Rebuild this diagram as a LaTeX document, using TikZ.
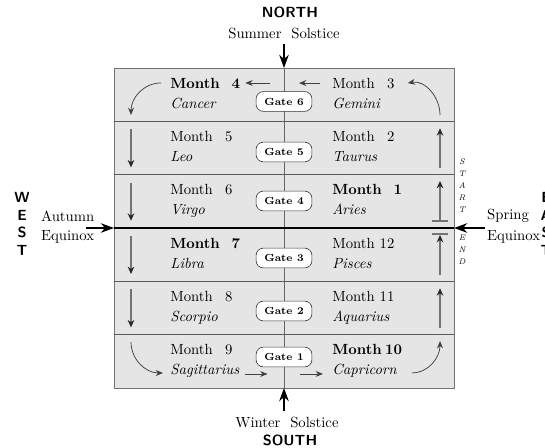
\documentclass[tikz,border=0pt]{standalone}
\usepackage{tikz}
\usetikzlibrary{positioning,calc,arrows.meta}

\newcommand{\mth}[1]{Month~\makebox[1em][r]{#1}}

\tikzset{
	month/.style={anchor=base west, inner sep=0pt},
	sign/.style={anchor=base west, inner sep=0pt, font=\itshape},
	gatebox/.style={draw=black!80, fill=white, rounded corners=5pt, font=\scriptsize\bfseries,
		minimum width=38pt, minimum height=13.5pt, inner sep=1pt},
	compass/.style={font=\sffamily\bfseries, align=center},
	rowline/.style={black!65, line width=0.6pt},
	cardinal/.style={line width=0.8pt, -{Stealth[length=9pt,width=6.5pt]}},
	flow/.style={black!75, line width=0.5pt, -{Stealth[length=5pt,width=4pt]}},
	colarrow/.style={black!55, line width=0.7pt, -{Stealth[length=5pt,width=4.5pt,black!85]}},
	barline/.style={black!55, line width=0.7pt},
	vletters/.style={font=\fontsize{5.5}{8.2}\selectfont\itshape, align=center, inner sep=0pt},
}

\begin{document}
\begin{tikzpicture}[x=0.68pt, y=-0.68pt]
	\useasboundingbox (0,0) rectangle (545,447);
	
	% the board
	\draw[black!55, fill=black!10, line width=0.6pt] (114,68) rectangle (454,388);
	\foreach \t in {121.33,174.67,281.33,334.67}
		\draw[rowline] (114,\t) -- (454,\t);
	\draw[black!60, line width=0.5pt] (284,68) -- (284,388);
	
	\coordinate (ntop) at (284,68);
	\coordinate (sbot) at (284,388);
	\coordinate (wedge) at (114,228);
	\coordinate (eedge) at (454,228);
	\coordinate (wtail) at (86,228);
	\coordinate (etail) at (485,228);
	\draw[line width=0.9pt] (wedge) -- (eedge);
	
	% months, signs and gates
	\foreach \i/\gy/\monL/\sigL/\monR/\sigR in {
		0/101.5/{\textbf{\mth{4}}}/Cancer/{\mth{3}}/Gemini,
		1/152/{\mth{5}}/Leo/{\mth{2}}/Taurus,
		2/201/{\mth{6}}/Virgo/{\textbf{\mth{1}}}/Aries,
		3/258/{\textbf{\mth{7}}}/Libra/{\mth{12}}/Pisces,
		4/311/{\mth{8}}/Scorpio/{\mth{11}}/Aquarius,
		5/357/{\mth{9}}/Sagittarius/{\textbf{\mth{10}}}/Capricorn}{
		\pgfmathsetmacro\t{68+53.333*\i}
		\pgfmathtruncatemacro\g{6-\i}
		\node[month] (ml\i) at (170,\t+20) {\monL};
		\node[sign] (sl\i) at (170,\t+40) {\sigL};
		\node[month] (mr\i) at (332,\t+20) {\monR};
		\node[sign] (sr\i) at (332,\t+40) {\sigR};
		\node[gatebox] (gate\g) at (284,\gy) {Gate \g};
	}
	
	% top and bottom rows
	\draw[flow] ($(ml0.east)+(30,0)$) -- ($(ml0.east)+(5,0)$);
	\draw[flow] ($(mr0.west)+(-12,0)$) -- ($(mr0.west)+(-33,0)$);
	\draw[flow] ($(ml0.west)+(-9,0)$) to[out=180, in=90] (131,115);
	\draw[flow] (440,115) to[out=90, in=10] ($(mr0.east)+(13,0)$);
	\draw[flow] (131,342) to[out=-90, in=180] ($(sl5.west)+(-7,2)$);
	\draw[flow] ($(sl5.east)+(5,3)$) -- ($(sl5.east)+(28,3)$);
	\draw[flow] ($(sr5.west)+(-32,3)$) -- ($(sr5.west)+(-9,3)$);
	\draw[flow] ($(sr5.east)+(15,2)$) to[out=0, in=-90] (440,341);
	
	% columns
	\foreach \t in {121.33,174.67,228,281.33}
		\draw[colarrow] (131,\t+8) -- (131,\t+46);
	\foreach \t in {121.33,281.33}
		\draw[colarrow] (440,\t+47) -- (440,\t+7);
	\draw[colarrow] (440,221) -- (440,181);
	\draw[barline] (432,221) -- (448,221);
	\draw[colarrow] (440,275) -- (440,235);
	\draw[barline] (432,234) -- (448,234);
	\node[vletters] (start) at (462,186) {S\\T\\A\\R\\T};
	\node[vletters] (finish) at (462,250) {E\\N\\D};
	
	% compass points
	\node[compass] (north) at (290,12) {NORTH};
	\node (summer) at (284,33) {Summer~ Solstice};
	\draw[cardinal] (summer) -- (ntop);
	\node[compass] (south) at (290,440) {SOUTH};
	\node (winter) at (287,422) {Winter~ Solstice};
	\draw[cardinal] (sbot |- winter.north) -- (sbot);
	\node[compass] (west) at (22,224) {W\\E\\S\\T};
	\node[anchor=west] (autumn) at (36,216) {Autumn};
	\node[anchor=west] (aequinox) at (36,237) {Equinox};
	\draw[cardinal] (wtail) -- (wedge);
	\node[compass] (east) at (546,224) {E\\A\\S\\T};
	\node[anchor=west] (spring) at (482,216) {Spring};
	\node[anchor=west] (sequinox) at (482,237) {Equinox};
	\draw[cardinal] (etail) -- (eedge);
\end{tikzpicture}
\end{document}
